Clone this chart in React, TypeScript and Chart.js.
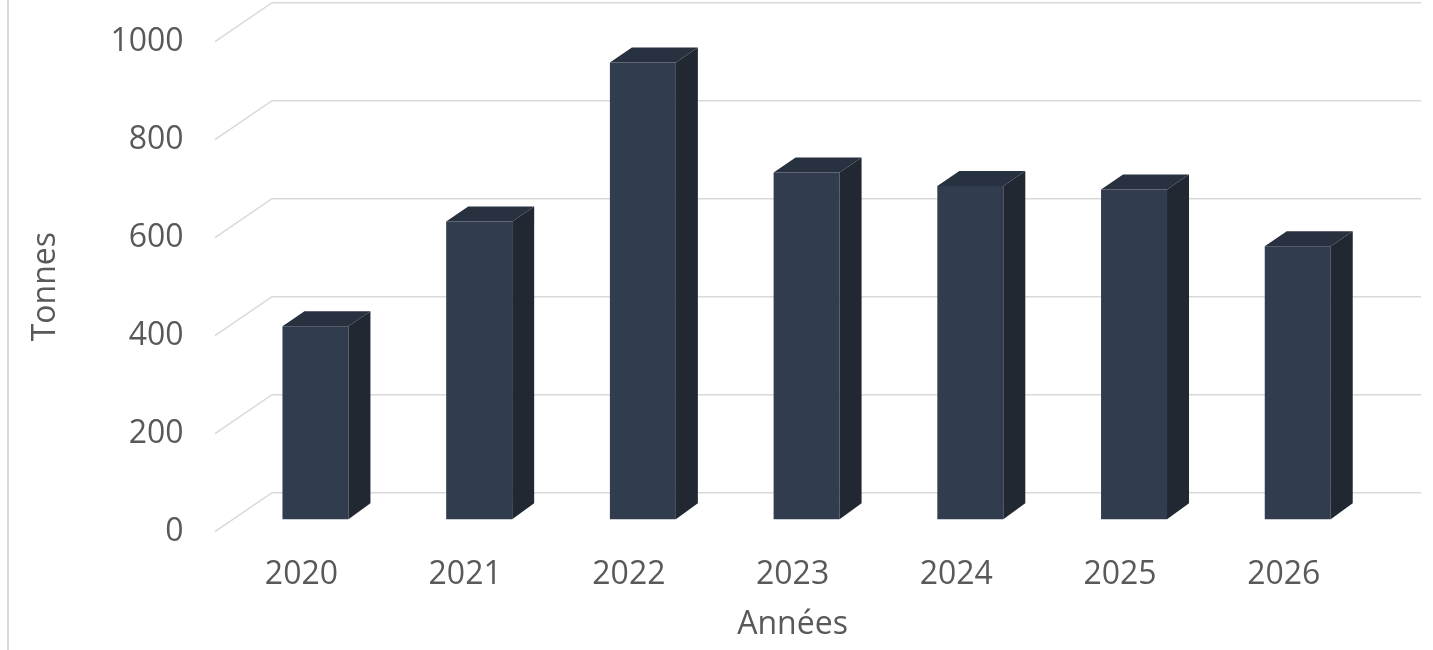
import React, { useEffect, useRef } from "react";
import { Chart, registerables } from "chart.js";

Chart.register(...registerables);

const categories = ["2020", "2021", "2022", "2023", "2024", "2025", "2026"];
const tonnes = [394, 608, 932, 708, 680, 673, 557];
const yTickValues = [0, 200, 400, 600, 800, 1000];
const xTitle = "Années";
const yTitle = "Tonnes";

const FRONT = "#323C4F";
const SIDE = "#212832";
const TOP = "#283140";
const GRID = "#D9D9D9";
const TEXT = "#595959";
const FONT = "'Open Sans', sans-serif";

// bar plane offset from the front (label) plane
const BAR_DX = 14;
const BAR_DY = -12.4;
const DEPTH_X = 22;
const DEPTH_TOP_Y = 15;
const DEPTH_BOT_Y = 16;
// back wall offset from the front plane
const WALL_DX = 57;
const WALL_DY = 39;

const threeD = {
  id: "threeD",
  beforeDraw(chart: any) {
    const ctx = chart.ctx;
    ctx.save();
    ctx.fillStyle = "#ffffff";
    ctx.fillRect(0, 0, chart.width, chart.height);
    ctx.strokeStyle = GRID;
    ctx.lineWidth = 2;
    ctx.beginPath();
    ctx.moveTo(8, 0);
    ctx.lineTo(8, chart.height);
    ctx.stroke();
    ctx.restore();
  },
  beforeDatasetsDraw(chart: any) {
    const { ctx, chartArea } = chart;
    const y = chart.scales.y;
    ctx.save();
    ctx.strokeStyle = GRID;
    ctx.lineWidth = 1.5;
    const fx = chartArea.left - 4.6;
    const rx = chartArea.right + 55.4;
    y.ticks.forEach((t: any) => {
      const py = y.getPixelForValue(t.value);
      ctx.beginPath();
      ctx.moveTo(fx, py);
      ctx.lineTo(fx + WALL_DX, py - WALL_DY);
      ctx.lineTo(rx, py - WALL_DY);
      ctx.stroke();
    });
    ctx.restore();
    ctx.save();
    ctx.translate(BAR_DX, BAR_DY);
  },
  afterDatasetsDraw(chart: any) {
    const ctx = chart.ctx;
    chart.getDatasetMeta(0).data.forEach((bar: any) => {
      const { x, y, base, width } = bar.getProps(["x", "y", "base", "width"], true);
      const l = x - width / 2;
      const r = x + width / 2;
      ctx.fillStyle = SIDE;
      ctx.beginPath();
      ctx.moveTo(r, y);
      ctx.lineTo(r + DEPTH_X, y - DEPTH_TOP_Y);
      ctx.lineTo(r + DEPTH_X, base - DEPTH_BOT_Y);
      ctx.lineTo(r, base);
      ctx.closePath();
      ctx.fill();
      ctx.fillStyle = TOP;
      ctx.beginPath();
      ctx.moveTo(l, y);
      ctx.lineTo(l + DEPTH_X, y - DEPTH_TOP_Y);
      ctx.lineTo(r + DEPTH_X, y - DEPTH_TOP_Y);
      ctx.lineTo(r, y);
      ctx.closePath();
      ctx.fill();
    });
    ctx.restore();
  },
};

export default function App() {
  const ref = useRef<HTMLCanvasElement | null>(null);

  useEffect(() => {
    if (!ref.current) return;
    const chart = new Chart(ref.current, {
      type: "bar",
      data: {
        labels: categories,
        datasets: [
          {
            label: yTitle,
            data: tonnes,
            backgroundColor: FRONT,
            borderWidth: 0,
            barPercentage: 0.403,
            categoryPercentage: 1,
            clip: false,
          } as any,
        ],
      },
      options: {
        responsive: false,
        animation: false,
        devicePixelRatio: 1,
        layout: { padding: { top: 41.7, right: 67.4, bottom: 0, left: 0 } },
        plugins: {
          legend: { display: false },
          tooltip: { enabled: false },
        },
        scales: {
          x: {
            grid: { display: false, drawTicks: true, tickLength: 24, color: "rgba(0,0,0,0)" },
            border: { display: false },
            ticks: {
              color: TEXT,
              font: { family: FONT, size: 32 },
              padding: 0,
              maxRotation: 0,
              autoSkip: false,
            },
            title: {
              display: true,
              text: xTitle,
              color: TEXT,
              font: { family: FONT, size: 32 },
              padding: { top: 0, bottom: 6 },
            },
            afterFit: (s: any) => {
              s.height = 118.3;
            },
          },
          y: {
            min: 0,
            max: 1000,
            grid: { display: false, drawTicks: true, tickLength: 36, color: "rgba(0,0,0,0)" },
            border: { display: false },
            afterBuildTicks: (s: any) => {
              s.ticks = yTickValues.map((v) => ({ value: v }));
            },
            ticks: {
              color: TEXT,
              font: { family: FONT, size: 32 },
              padding: 0,
              callback: (v: any) => String(v),
            },
            title: {
              display: true,
              text: yTitle,
              color: TEXT,
              font: { family: FONT, size: 32 },
              padding: { top: 27, bottom: 0 },
            },
            afterFit: (s: any) => {
              s.width = 219.6;
            },
          },
        },
      },
      plugins: [threeD],
    });
    return () => chart.destroy();
  }, []);

  return (
    <div style={{ position: "fixed", left: 0, top: 0, width: 1433, height: 650, background: "#fff" }}>
      <canvas ref={ref} width={1433} height={650} style={{ display: "block" }} />
    </div>
  );
}
